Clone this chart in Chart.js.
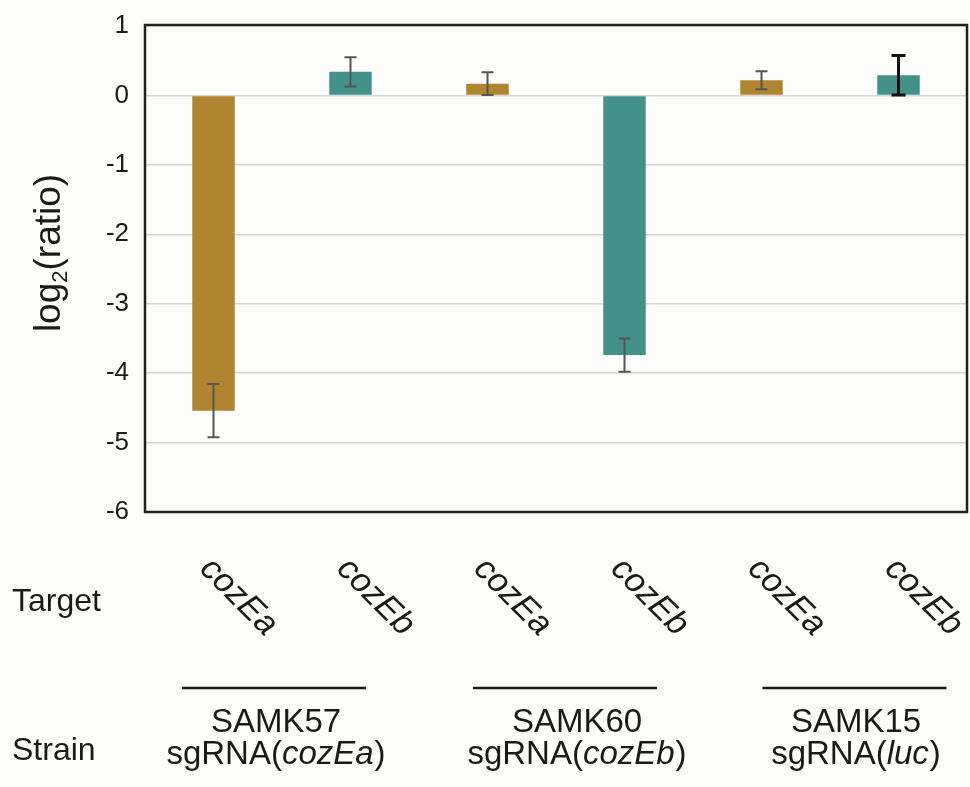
<!DOCTYPE html>
<html>
<head>
<meta charset="utf-8">
<script src="https://cdn.jsdelivr.net/npm/chart.js@4.4.1/dist/chart.umd.min.js"></script>
<style>
  html, body { margin: 0; padding: 0; background: #fdfdfc; }
  #wrap { width: 970px; height: 787px; }
</style>
</head>
<body>
<div id="wrap"><canvas id="c" width="970" height="787"></canvas></div>
<script>
// Knock-down targets, one bar each
const targets = ['cozEa', 'cozEb', 'cozEa', 'cozEb', 'cozEa', 'cozEb'];
// Mean log2 expression ratio per target
const log2Ratio = [-4.54, 0.34, 0.17, -3.74, 0.22, 0.29];
// Error (± half-range) for each bar
const errors = [0.385, 0.21, 0.165, 0.24, 0.13, 0.285];
// Strain names and the sgRNA each one carries (two targets per strain)
const strainNames = ['SAMK57', 'SAMK60', 'SAMK15'];
const strainGuides = ['cozEa', 'cozEb', 'luc'];
// y-axis range and step
const yMin = -6, yMax = 1, yStep = 1;

const FONT = '"Liberation Sans", Arial, Helvetica, sans-serif';
const targetColor = { cozEa: '#B0852F', cozEb: '#42928A' };
const errStyle = [
  { color: '#555', width: 2, cap: 6 }, { color: '#555', width: 2, cap: 6 }, { color: '#555', width: 2, cap: 6 },
  { color: '#555', width: 2, cap: 6 }, { color: '#555', width: 2, cap: 6 }, { color: '#111', width: 3, cap: 7 }
];

const decorations = {
  id: 'decorations',
  beforeDraw(chart) {
    const ctx = chart.ctx;
    ctx.save();
    ctx.fillStyle = '#fdfdfc';
    ctx.fillRect(0, 0, chart.width, chart.height);
    ctx.restore();
  },
  afterDatasetsDraw(chart) {
    const ctx = chart.ctx, meta = chart.getDatasetMeta(0), y = chart.scales.y;
    ctx.save();
    meta.data.forEach((bar, i) => {
      const v = log2Ratio[i], e = errors[i];
      const yTop = y.getPixelForValue(v + e), yBot = y.getPixelForValue(v - e);
      const cap = errStyle[i].cap;
      ctx.strokeStyle = errStyle[i].color;
      ctx.lineWidth = errStyle[i].width;
      ctx.beginPath();
      ctx.moveTo(bar.x, yTop); ctx.lineTo(bar.x, yBot);
      ctx.moveTo(bar.x - cap, yTop); ctx.lineTo(bar.x + cap, yTop);
      ctx.moveTo(bar.x - cap, yBot); ctx.lineTo(bar.x + cap, yBot);
      ctx.stroke();
    });
    ctx.restore();
  },
  afterDraw(chart) {
    const ctx = chart.ctx, a = chart.chartArea, meta = chart.getDatasetMeta(0);
    ctx.save();
    // plot frame
    ctx.strokeStyle = '#222';
    ctx.lineWidth = 2.5;
    ctx.strokeRect(a.left, a.top - 1, a.right - a.left, a.bottom - a.top + 1);

    // y-axis title: log2(ratio) with subscript 2
    ctx.fillStyle = '#1a1a1a';
    const big = '37px ' + FONT, small = '22px ' + FONT;
    ctx.font = big; const w1 = ctx.measureText('log').width, w3 = ctx.measureText('(ratio)').width;
    ctx.font = small; const w2 = ctx.measureText('2').width;
    const total = w1 + w2 + w3;
    ctx.save();
    ctx.translate(60, 253);
    ctx.rotate(-Math.PI / 2);
    ctx.textAlign = 'left';
    ctx.textBaseline = 'alphabetic';
    let x0 = -total / 2;
    ctx.font = big; ctx.fillText('log', x0, 0); x0 += w1;
    ctx.font = small; ctx.fillText('2', x0, 7); x0 += w2;
    ctx.font = big; ctx.fillText('(ratio)', x0, 0);
    ctx.restore();

    // rotated target labels under each bar
    ctx.font = 'italic 34px ' + FONT;
    ctx.textAlign = 'center';
    ctx.textBaseline = 'middle';
    meta.data.forEach((bar, i) => {
      ctx.save();
      ctx.translate(bar.x + 25, 597);
      ctx.rotate(Math.PI / 4);
      ctx.fillText(targets[i], 0, 0);
      ctx.restore();
    });

    // row headers
    ctx.font = '32px ' + FONT;
    ctx.textAlign = 'left';
    ctx.textBaseline = 'alphabetic';
    ctx.fillText('Target', 12, 611);
    ctx.fillText('Strain', 12, 760);

    // strain brackets and names
    const lineCenters = [274, 565, 854.5], textCenters = [276, 577, 856];
    ctx.strokeStyle = '#1a1a1a';
    ctx.lineWidth = 2.5;
    strainNames.forEach((name, g) => {
      ctx.beginPath();
      ctx.moveTo(lineCenters[g] - 92, 688);
      ctx.lineTo(lineCenters[g] + 92, 688);
      ctx.stroke();

      const cx = textCenters[g];
      ctx.font = '33px ' + FONT;
      ctx.textAlign = 'center';
      ctx.fillText(name, cx, 732);

      // second line: sgRNA(<italic guide>)
      const partA = 'sgRNA(', partB = strainGuides[g], partC = ')';
      ctx.font = '33px ' + FONT; const wa = ctx.measureText(partA).width, wc = ctx.measureText(partC).width;
      ctx.font = 'italic 33px ' + FONT; const wb = ctx.measureText(partB).width;
      let sx = cx - (wa + wb + wc + 1) / 2;
      ctx.textAlign = 'left';
      ctx.font = '33px ' + FONT; ctx.fillText(partA, sx, 764); sx += wa;
      ctx.font = 'italic 33px ' + FONT; ctx.fillText(partB, sx, 764); sx += wb + 1;
      ctx.font = '33px ' + FONT; ctx.fillText(partC, sx, 764);
    });
    ctx.restore();
  }
};

new Chart(document.getElementById('c'), {
  type: 'bar',
  data: {
    labels: targets,
    datasets: [{
      data: log2Ratio,
      backgroundColor: targets.map(t => targetColor[t]),
      borderWidth: 0,
      barPercentage: 0.31,
      categoryPercentage: 1
    }]
  },
  options: {
    responsive: false,
    animation: false,
    devicePixelRatio: 1,
    layout: { padding: { left: 0, top: 26, right: 3, bottom: 275 } },
    plugins: { legend: { display: false }, tooltip: { enabled: false }, title: { display: false } },
    scales: {
      x: {
        grid: { display: false },
        border: { display: false },
        ticks: { display: false },
        afterFit(s) { s.height = 0; }
      },
      y: {
        min: yMin, max: yMax,
        grid: { color: '#d6d6d6', lineWidth: 1.5, drawTicks: false },
        border: { display: false },
        ticks: {
          stepSize: yStep,
          padding: 16,
          color: '#1a1a1a',
          font: { family: FONT, size: 26 }
        },
        afterFit(s) { s.width = 145; s.paddingTop = 0; s.paddingBottom = 0; }
      }
    }
  },
  plugins: [decorations]
});
</script>
</body>
</html>
